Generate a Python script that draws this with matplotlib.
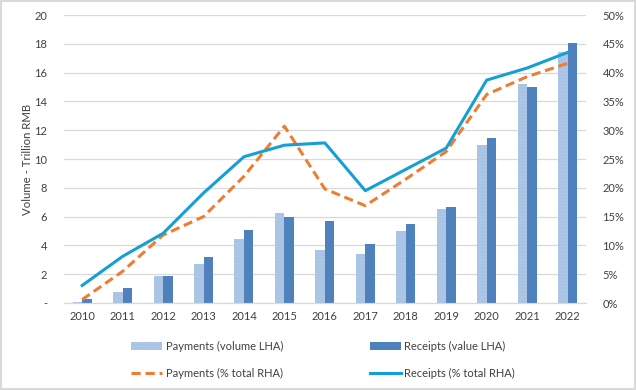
import numpy as np
import matplotlib.pyplot as plt
from matplotlib.patches import Rectangle
from matplotlib.ticker import FuncFormatter

plt.rcParams['font.family'] = ['Lato', 'DejaVu Sans']
plt.rcParams['hatch.linewidth'] = 0.4

years = ['2010', '2011', '2012', '2013', '2014', '2015', '2016',
         '2017', '2018', '2019', '2020', '2021', '2022']
pay_vol = [0.05, 0.8, 1.85, 2.7, 4.47, 6.25, 3.65, 3.4, 5.0, 6.53, 11.0, 15.2, 17.4]
rec_val = [0.3, 1.05, 1.85, 3.2, 5.1, 5.97, 5.7, 4.1, 5.5, 6.67, 11.46, 15.0, 18.05]
pay_pct = [0.6, 5.5, 11.8, 15.0, 22.0, 30.7, 19.8, 16.9, 21.5, 26.3, 36.2, 39.3, 41.6]
rec_pct = [3.05, 8.1, 12.1, 19.1, 25.4, 27.4, 27.8, 19.5, 23.2, 26.9, 38.7, 40.8, 43.5]

fig = plt.figure(figsize=(6.36, 3.9), dpi=100)
ax = fig.add_axes([0.1006, 0.223, 0.8204, 0.7385])
ax2 = ax.twinx()

x = np.arange(len(years))
w = 0.235
b1 = ax.bar(x - w / 2, pay_vol, w, color='#A9C3E4', edgecolor='#BBD0EA',
            hatch='.....', linewidth=0, label='Payments (volume LHA)', zorder=2)
b2 = ax.bar(x + w / 2, rec_val, w, color='#4F81BD', linewidth=0,
            label='Receipts (value LHA)', zorder=2)

l1, = ax2.plot(x, pay_pct, color='#ED7D31', lw=2.2, dashes=(3, 1.6),
               label='Payments (% total RHA)')
l2, = ax2.plot(x, rec_pct, color='#14A0D4', lw=2.2,
               label='Receipts (% total RHA)')

ax.set_xlim(-0.45, len(years) - 0.55)
ax.set_ylim(0, 20)
ax.set_yticks(range(0, 21, 2))
ax.yaxis.set_major_formatter(FuncFormatter(lambda v, p: '-' if v == 0 else f'{v:.0f}'))
ax2.set_ylim(0, 50)
ax2.set_yticks(range(0, 51, 5))
ax2.yaxis.set_major_formatter(FuncFormatter(lambda v, p: f'{v:.0f}%'))
ax.set_xticks(x)
ax.set_xticklabels(years)

ax.grid(axis='y', color='#D9D9D9', lw=0.9, zorder=0)
ax.set_axisbelow(True)
for a in (ax, ax2):
    for s in ('top', 'left', 'right'):
        a.spines[s].set_visible(False)
    a.spines['bottom'].set_color('#D9D9D9')
    a.tick_params(length=0, labelsize=8, colors='#404040')
ax.tick_params(axis='y', pad=12)
ax2.tick_params(axis='y', pad=12)
ax.tick_params(axis='x', pad=6)
ax.set_ylabel('Volume - Trillion RMB', fontsize=8.2, color='#404040', labelpad=1)

fig.legend([b1, l1, b2, l2],
           ['Payments (volume LHA)', 'Payments (% total RHA)',
            'Receipts (value LHA)', 'Receipts (% total RHA)'],
           ncol=2, loc='center', bbox_to_anchor=(0.508, 0.078), frameon=False,
           fontsize=8, handlelength=2.8, columnspacing=7.8, labelspacing=1.45,
           handletextpad=0.3, labelcolor='#404040')

fig.add_artist(Rectangle((0.002, 0.003), 0.996, 0.994, transform=fig.transFigure,
                         fill=False, edgecolor='#D9D9D9', lw=1.5))

fig.savefig('out.png', dpi=100)
